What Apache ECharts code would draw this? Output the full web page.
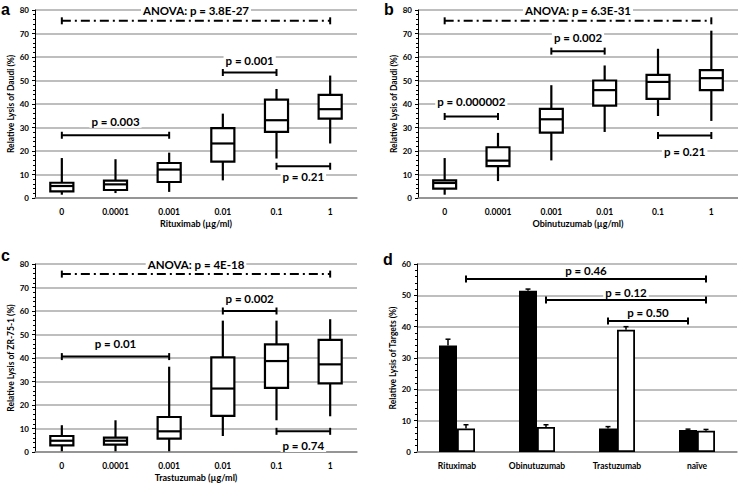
<!DOCTYPE html>
<html><head><meta charset="utf-8">
<script src="https://cdn.jsdelivr.net/npm/echarts@6/dist/echarts.min.js"></script>
<style>html,body{margin:0;padding:0;background:#fff}#c{width:738px;height:485px}</style>
</head><body><div id="c"></div>
<script>
// ---------- DATA ----------
const doseCats = ['0', '0.0001', '0.001', '0.01', '0.1', '1'];
// each box: [low whisker, Q1, median, Q3, high whisker]
const boxA = [[1.4, 2.8, 5.1, 6.5, 17], [2.1, 3.4, 5.8, 7.4, 16.5], [2.6, 6.8, 12.1, 14.9, 19.3], [7.5, 15.5, 23.2, 29.7, 35.9], [16.8, 28.1, 33.1, 41.9, 46.4], [23.2, 33.8, 37.8, 43.9, 52.1]];
const boxB = [[1.4, 4, 6.4, 7.5, 17], [7.2, 13.6, 15.9, 21.6, 27.7], [16, 27.8, 33.5, 37.9, 48], [28.1, 39.3, 45.9, 50, 56.4], [34.9, 42.2, 49.4, 52.4, 63.5], [32.8, 45.9, 51, 54.4, 71.2]];
const boxC = [[0.3, 2.8, 4.8, 6.8, 11.4], [0.3, 3.1, 4.8, 6.1, 13.5], [0.3, 5.7, 8.8, 14.9, 36.3], [6.8, 15.4, 27, 40.3, 55.9], [13.5, 27.3, 38.7, 45.8, 55.9], [15.2, 29.2, 37.3, 47.7, 56.5]];
// brackets: [from category, to category, line value, label value]
const bracketsA = [[0, 5, 75.4, 80], [0, 2, 26.7, 32.4], [3, 4, 53.4, 58.7], [4, 5, 13.5, 9]];
const labelsA = ['ANOVA: p = 3.8E-27', 'p = 0.003', 'p = 0.001', 'p = 0.21'];
const bracketsB = [[0, 5, 75.4, 80], [0, 1, 34.7, 40.9], [2, 3, 62.5, 68.3], [4, 5, 26.6, 19.9]];
const labelsB = ['ANOVA: p = 6.3E-31', 'p = 0.000002', 'p = 0.002', 'p = 0.21'];
const bracketsC = [[0, 5, 75.7, 80], [0, 2, 40.6, 46.3], [3, 4, 60, 65.5], [4, 5, 8.8, 2.6]];
const labelsC = ['ANOVA: p = 4E-18', 'p = 0.01', 'p = 0.002', 'p = 0.74'];

const targetCats = ['Rituximab', 'Obinutuzumab', 'Trastuzumab', 'naïve'];
const blackVals = [34, 51.5, 7.5, 7];
const blackErr = [2, 0.5, 0.6, 0.3];
const whiteVals = [7.5, 8, 39, 6.8];
const whiteErr = [1.2, 0.7, 1, 0.4];
// [from cat, from bar (0 black / 1 white), to cat, to bar, line value, label value]
const bracketsD = [[0, 1, 3, 1, 55.2, 57.8], [1, 1, 3, 1, 48.5, 51], [2, 0, 3, 0, 41.8, 44.4]];
const labelsD = ['p = 0.46', 'p = 0.12', 'p = 0.50'];

const axisTitlesX = ['Rituximab (µg/ml)', 'Obinutuzumab (µg/ml)', 'Trastuzumab (µg/ml)'];
const axisTitlesY = ['Relative Lysis of Daudi (%)', 'Relative Lysis of Daudi (%)', 'Relative Lysis of ZR-75-1 (%)', 'Relative Lysis of Targets (%)'];
const panelLetters = ['a', 'b', 'c', 'd'];

// ---------- CHART ----------
const FONT = 'Lato';
const BAR_W = 18;
const chart = echarts.init(document.getElementById('c'), null, {renderer: 'svg'});

function boxRender(params, api) {
  const x = api.value(0);
  const lo = api.coord([x, api.value(1)]);
  const q1 = api.coord([x, api.value(2)]);
  const md = api.coord([x, api.value(3)]);
  const q3 = api.coord([x, api.value(4)]);
  const hi = api.coord([x, api.value(5)]);
  const hw = api.size([1, 0])[0] * 0.215;
  const cx = lo[0];
  const st = {stroke: '#000', lineWidth: 2.2};
  return {type: 'group', children: [
    {type: 'line', shape: {x1: cx, y1: hi[1], x2: cx, y2: q3[1]}, style: st},
    {type: 'line', shape: {x1: cx, y1: q1[1], x2: cx, y2: lo[1]}, style: st},
    {type: 'rect', shape: {x: cx - hw, y: q3[1], width: 2 * hw, height: q1[1] - q3[1]}, style: {stroke: '#000', lineWidth: 2.2, fill: '#fff'}},
    {type: 'line', shape: {x1: cx - hw, y1: md[1], x2: cx + hw, y2: md[1]}, style: st}
  ]};
}

function bracketGroup(x1, x2, y, ly, text, dashed) {
  const st = {stroke: '#000', lineWidth: 2};
  const cap = 3.5;
  return {type: 'group', children: [
    {type: 'line', shape: {x1: x1, y1: y, x2: x2, y2: y}, style: Object.assign({}, st, dashed ? {lineDash: [9, 4, 2, 4]} : {})},
    {type: 'line', shape: {x1: x1, y1: y - cap, x2: x1, y2: y + cap}, style: st},
    {type: 'line', shape: {x1: x2, y1: y - cap, x2: x2, y2: y + cap}, style: st},
    {type: 'text', style: {text: text, x: (x1 + x2) / 2, y: ly, align: 'center', verticalAlign: 'middle',
      font: 'bold 11.5px ' + FONT, fill: '#000', backgroundColor: '#fff', padding: [0, 2]}}
  ]};
}

function bracketSeries(idx, data, labels) {
  return {
    type: 'custom', xAxisIndex: idx, yAxisIndex: idx, z: 5,
    data: data,
    encode: {x: [0, 1], y: [2, 3]},
    renderItem: function (params, api) {
      const a = api.coord([api.value(0), api.value(2)]);
      const b = api.coord([api.value(1), api.value(2)]);
      const l = api.coord([api.value(0), api.value(3)]);
      return bracketGroup(a[0], b[0], a[1], l[1], labels[params.dataIndex], params.dataIndex === 0);
    }
  };
}

const grids = [
  {left: 35, top: 10, width: 322, height: 188},
  {left: 418, top: 10, width: 320, height: 188},
  {left: 35, top: 264, width: 322, height: 188},
  {left: 417, top: 264, width: 320, height: 188}
];

const xAxes = [0, 1, 2, 3].map(i => ({
  type: 'category', gridIndex: i,
  data: i < 3 ? doseCats : targetCats,
  name: i < 3 ? axisTitlesX[i] : '',
  nameLocation: 'middle', nameGap: 21,
  nameTextStyle: {fontFamily: FONT, fontWeight: 'bold', fontSize: 9, color: '#000'},
  axisLine: {lineStyle: {color: '#888', width: 1.5}},
  axisTick: {show: false},
  axisLabel: {fontFamily: FONT, fontWeight: 'bold', fontSize: 8.5, color: '#000', margin: 9}
}));

const yAxes = [0, 1, 2, 3].map(i => ({
  type: 'value', gridIndex: i, min: 0, max: i < 3 ? 80 : 60, interval: 10,
  name: axisTitlesY[i], nameLocation: 'middle', nameGap: 15,
  nameTextStyle: {fontFamily: FONT, fontWeight: 'bold', fontSize: 8.5, color: '#000'},
  axisLine: {show: true, lineStyle: {color: '#000', width: 1}},
  axisTick: {show: true, length: 3, lineStyle: {color: '#000'}},
  minorTick: {show: true, splitNumber: 5, length: 2, lineStyle: {color: '#000'}},
  splitLine: {lineStyle: {color: '#a8a8a8', width: 1.5}},
  axisLabel: {fontFamily: FONT, fontWeight: 'bold', fontSize: 8, color: '#000', margin: 6}
}));

const series = [];
[boxA, boxB, boxC].forEach((bx, i) => {
  series.push({
    type: 'custom', xAxisIndex: i, yAxisIndex: i, z: 3,
    data: bx.map((b, k) => [k].concat(b)),
    encode: {x: 0, y: [1, 2, 3, 4, 5]},
    renderItem: boxRender
  });
});
series.push(bracketSeries(0, bracketsA, labelsA));
series.push(bracketSeries(1, bracketsB, labelsB));
series.push(bracketSeries(2, bracketsC, labelsC));

series.push({type: 'bar', xAxisIndex: 3, yAxisIndex: 3, data: blackVals, barWidth: BAR_W, barGap: '0%',
  itemStyle: {color: '#000', borderColor: '#000', borderWidth: 1.5}});
series.push({type: 'bar', xAxisIndex: 3, yAxisIndex: 3, data: whiteVals, barWidth: BAR_W, barGap: '0%',
  itemStyle: {color: '#fff', borderColor: '#000', borderWidth: 1.8}});

// error bars
const errData = blackVals.map((v, k) => [k, v, blackErr[k], -1]).concat(whiteVals.map((v, k) => [k, v, whiteErr[k], 1]));
series.push({
  type: 'custom', xAxisIndex: 3, yAxisIndex: 3, z: 4, data: errData,
  encode: {x: 0, y: 1},
  renderItem: function (params, api) {
    const p0 = api.coord([api.value(0), api.value(1)]);
    const p1 = api.coord([api.value(0), api.value(1) + api.value(2)]);
    const x = p0[0] + api.value(3) * BAR_W / 2;
    const st = {stroke: '#000', lineWidth: 1.5};
    return {type: 'group', children: [
      {type: 'line', shape: {x1: x, y1: p0[1], x2: x, y2: p1[1]}, style: st},
      {type: 'line', shape: {x1: x - 2.5, y1: p1[1], x2: x + 2.5, y2: p1[1]}, style: st}
    ]};
  }
});
series.push({
  type: 'custom', xAxisIndex: 3, yAxisIndex: 3, z: 5, data: bracketsD,
  encode: {x: [0, 2], y: [4, 5]},
  renderItem: function (params, api) {
    const a = api.coord([api.value(0), api.value(4)]);
    const b = api.coord([api.value(2), api.value(4)]);
    const l = api.coord([api.value(0), api.value(5)]);
    const xa = a[0] + (api.value(1) ? 1 : -1) * BAR_W / 2;
    const xb = b[0] + (api.value(3) ? 1 : -1) * BAR_W / 2;
    return bracketGroup(xa, xb, a[1], l[1], labelsD[params.dataIndex], false);
  }
});

const letterPos = [[1, 1], [384, 1], [1, 247], [383, 251]];
const graphic = panelLetters.map((t, i) => ({
  type: 'text', left: letterPos[i][0], top: letterPos[i][1],
  style: {text: t, font: 'bold 16px Arial', fill: '#000'}
}));

chart.setOption({
  animation: false,
  backgroundColor: '#fff',
  grid: grids,
  xAxis: xAxes,
  yAxis: yAxes,
  series: series,
  graphic: graphic
});
</script></body></html>
